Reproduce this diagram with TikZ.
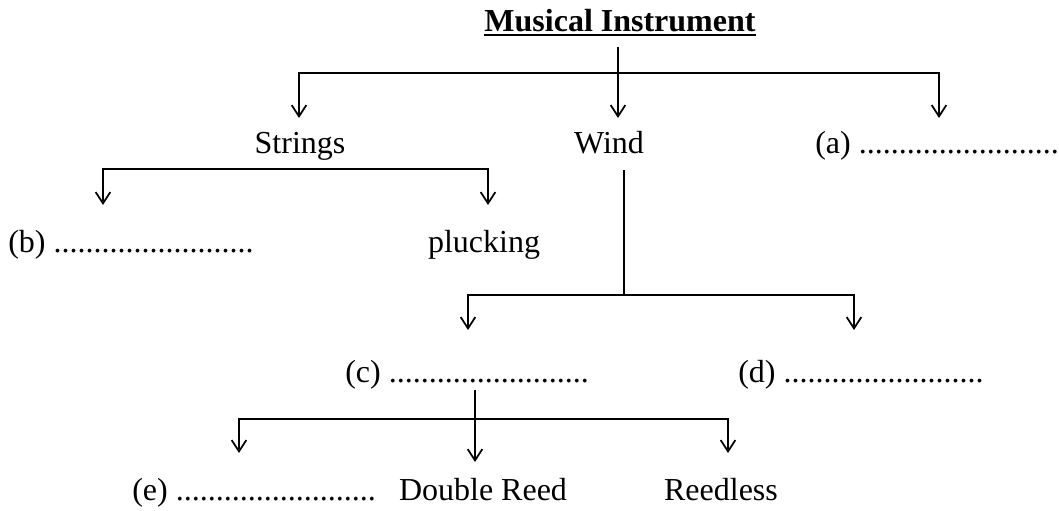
\documentclass[tikz,border=0pt]{standalone}
\usepackage{fontspec}
\setmainfont{Liberation Serif}
\usetikzlibrary{arrows.meta}
\tikzset
{
    headnode/.style  = {inner sep=0pt, anchor=base, font=\fontsize{24}{28}\selectfont\bfseries},
    catnode/.style   = {inner sep=0pt, anchor=base, font=\fontsize{24}{28}\selectfont},
    blanknode/.style = {inner sep=0pt, anchor=base west, font=\fontsize{24}{28}\selectfont},
    stem/.style      = {line width=1.3pt},
    link/.style      = {line width=1.3pt, -{Straight Barb[length=8.5pt,width=11pt]}}
}
\newcommand{\dotrow}{.........................}

\begin{document}
\begin{tikzpicture}[x=0.75pt, y=-0.75pt]
	\useasboundingbox (0,0) rectangle (1059,510);
	\node[headnode] (music) at (620,32) {Musical Instrument};
	\draw[stem] ([yshift=-2pt]music.base west) -- ([yshift=-2pt]music.base east);

	\node[catnode] (strings) at (300,153) {Strings};
	\node[catnode] (wind) at (609,153) {Wind};
	\node[blanknode] (a) at (815,153) {(a) \dotrow};

	\node[blanknode] (b) at (8,252) {(b) \dotrow};
	\node[catnode] (pluck) at (484,252) {plucking};

	\node[blanknode] (c) at (345,382) {(c) \dotrow};
	\node[blanknode] (d) at (738,382) {(d) \dotrow};

	\node[blanknode] (e) at (132,500) {(e) \dotrow};
	\node[catnode] (dreed) at (483,500) {Double Reed};
	\node[catnode] (reedless) at (721,500) {Reedless};

	\coordinate (musicout) at (618,47);
	\coordinate (musicfork) at (618,73);
	\coordinate (stringsin) at (299,118);
	\coordinate (windin) at (618,118);
	\coordinate (ain) at (939,118);
	\draw[link] (musicout) -- (windin);
	\draw[link] (musicfork) -| (stringsin);
	\draw[link] (musicfork) -| (ain);

	\coordinate (stringsfork) at (300,169);
	\coordinate (bin) at (103,205);
	\coordinate (pluckin) at (488,205);
	\draw[link] (stringsfork) -| (bin);
	\draw[link] (stringsfork) -| (pluckin);

	\coordinate (windout) at (624,170);
	\coordinate (windfork) at (624,295);
	\coordinate (cin) at (468,330);
	\coordinate (din) at (854,330);
	\draw[stem] (windout) -- (windfork);
	\draw[link] (windfork) -| (cin);
	\draw[link] (windfork) -| (din);

	\coordinate (cout) at (475,390);
	\coordinate (cfork) at (475,419);
	\coordinate (ein) at (239,453);
	\coordinate (dreedin) at (475,462);
	\coordinate (reedlessin) at (728,453);
	\draw[link] (cout) -- (dreedin);
	\draw[link] (cfork) -| (ein);
	\draw[link] (cfork) -| (reedlessin);
\end{tikzpicture}
\end{document}
